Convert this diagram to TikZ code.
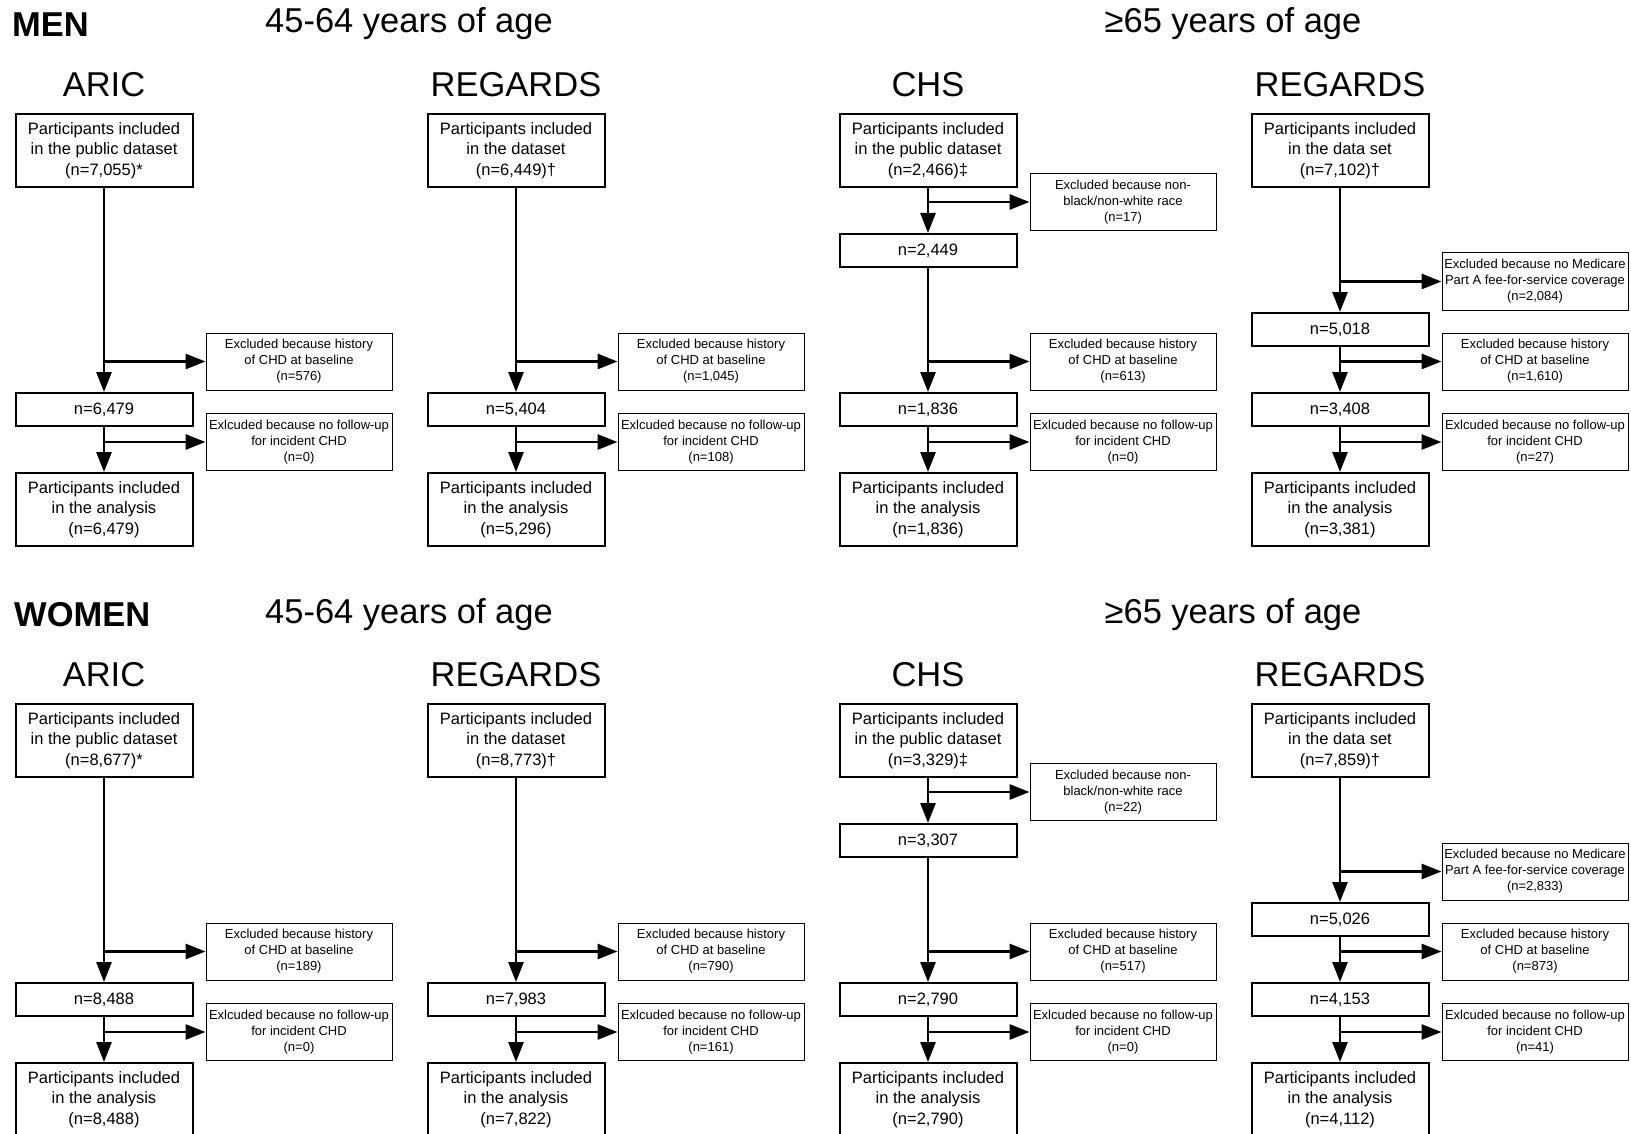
\documentclass[tikz,border=0pt]{standalone}
\usepackage{fontspec}
\setmainfont{Liberation Sans}
\usetikzlibrary{arrows.meta}
\newcommand\mainsz{\fontsize{16.5}{20.3}\selectfont}
\newcommand\smallsz{\fontsize{13}{16.1}\selectfont}
\newcommand\headsz{\fontsize{34.5}{40}\selectfont}
\tikzset{
  mainbox/.style={draw, line width=2pt, minimum width=177pt, minimum height=73pt, inner sep=0pt, align=center, font=\mainsz},
  midbox/.style={draw, line width=2pt, minimum width=177pt, minimum height=33pt, inner sep=0pt, align=center, font=\mainsz},
  exbox/.style={draw, line width=1pt, minimum width=186pt, minimum height=57pt, inner sep=1pt, align=center, font=\smallsz},
  arr/.style={line width=2.8pt, -{Triangle[length=20pt,width=15pt]}},
  headtxt/.style={font=\headsz, inner sep=0pt},
}
% simple column: top, history, n, follow-up, final
\newcommand\simplecol[8]{%
  \node[mainbox] (#1top) at (#2,#3+150.5) {#4};
  \node[exbox] (#1hist) at (#2+195,#3+361.5) {Excluded because history\\of CHD at baseline\\(n=#5)};
  \node[midbox] (#1mid) at (#2,#3+409.5) {n=#6};
  \node[exbox] (#1fu) at (#2+195,#3+442) {Exlcuded because no follow-up\\for incident CHD\\(n=#7)};
  \node[mainbox] (#1fin) at (#2,#3+509.5) {Participants included\\in the analysis\\(n=#8)};
  \draw[arr] (#1top) -- (#1mid);
  \draw[arr] (#1top.south |- #1hist.west) -- (#1hist.west);
  \draw[arr] (#1mid) -- (#1fin);
  \draw[arr] (#1mid.south |- #1fu.west) -- (#1fu.west);
}
\begin{document}
\begin{tikzpicture}[x=1pt,y=-1pt]
\useasboundingbox (0,0) rectangle (1631,1134);
\clip (0,0) rectangle (1631,1134);

% ================= MEN =================
\node[headtxt, anchor=west, font=\headsz\bfseries] (men) at (12,25) {MEN};
\node[headtxt] (ageA) at (409,24) {45-64 years of age};
\node[headtxt] (ageB) at (1233,24) {≥65 years of age};
\node[headtxt] (t1) at (104,85) {ARIC};
\node[headtxt] (t2) at (516,85) {REGARDS};
\node[headtxt] (t3) at (928,85) {CHS};
\node[headtxt] (t4) at (1340,85) {REGARDS};

\simplecol{ma}{104}{0}{Participants included\\in the public dataset\\(n=7,055)*}{576}{6,479}{0}{6,479}
\simplecol{mb}{516}{0}{Participants included\\in the dataset\\(n=6,449)†}{1,045}{5,404}{108}{5,296}

% CHS men
\node[mainbox] (mctop) at (928,150.5) {Participants included\\in the public dataset\\(n=2,466)‡};
\node[exbox] (mcrace) at (1123,202) {Excluded because non-\\black/non-white race\\(n=17)};
\node[midbox] (mcn1) at (928,250.5) {n=2,449};
\node[exbox] (mchist) at (1123,361.5) {Excluded because history\\of CHD at baseline\\(n=613)};
\node[midbox] (mcn2) at (928,409.5) {n=1,836};
\node[exbox] (mcfu) at (1123,442) {Exlcuded because no follow-up\\for incident CHD\\(n=0)};
\node[mainbox] (mcfin) at (928,509.5) {Participants included\\in the analysis\\(n=1,836)};
\draw[arr] (mctop) -- (mcn1);
\draw[arr] (mctop.south |- mcrace.west) -- (mcrace.west);
\draw[arr] (mcn1) -- (mcn2);
\draw[arr] (mcn1.south |- mchist.west) -- (mchist.west);
\draw[arr] (mcn2) -- (mcfin);
\draw[arr] (mcn2.south |- mcfu.west) -- (mcfu.west);

% REGARDS >=65 men
\node[mainbox] (mrtop) at (1340,150.5) {Participants included\\in the data set\\(n=7,102)†};
\node[exbox] (mrmed) at (1535,281.5) {Excluded because no Medicare\\Part A fee-for-service coverage\\(n=2,084)};
\node[midbox] (mrn1) at (1340,329.5) {n=5,018};
\node[exbox] (mrhist) at (1535,361.5) {Excluded because history\\of CHD at baseline\\(n=1,610)};
\node[midbox] (mrn2) at (1340,409.5) {n=3,408};
\node[exbox] (mrfu) at (1535,442) {Exlcuded because no follow-up\\for incident CHD\\(n=27)};
\node[mainbox] (mrfin) at (1340,509.5) {Participants included\\in the analysis\\(n=3,381)};
\draw[arr] (mrtop) -- (mrn1);
\draw[arr] (mrtop.south |- mrmed.west) -- (mrmed.west);
\draw[arr] (mrn1) -- (mrn2);
\draw[arr] (mrn1.south |- mrhist.west) -- (mrhist.west);
\draw[arr] (mrn2) -- (mrfin);
\draw[arr] (mrn2.south |- mrfu.west) -- (mrfu.west);

% ================= WOMEN =================
\node[headtxt, anchor=west, font=\headsz\bfseries] (women) at (14,615) {WOMEN};
\node[headtxt] (wageA) at (409,615) {45-64 years of age};
\node[headtxt] (wageB) at (1233,615) {≥65 years of age};
\node[headtxt] (w1) at (104,675) {ARIC};
\node[headtxt] (w2) at (516,675) {REGARDS};
\node[headtxt] (w3) at (928,675) {CHS};
\node[headtxt] (w4) at (1340,675) {REGARDS};

\simplecol{wa}{104}{590}{Participants included\\in the public dataset\\(n=8,677)*}{189}{8,488}{0}{8,488}
\simplecol{wb}{516}{590}{Participants included\\in the dataset\\(n=8,773)†}{790}{7,983}{161}{7,822}

% CHS women
\node[mainbox] (wctop) at (928,740.5) {Participants included\\in the public dataset\\(n=3,329)‡};
\node[exbox] (wcrace) at (1123,792) {Excluded because non-\\black/non-white race\\(n=22)};
\node[midbox] (wcn1) at (928,840.5) {n=3,307};
\node[exbox] (wchist) at (1123,951.5) {Excluded because history\\of CHD at baseline\\(n=517)};
\node[midbox] (wcn2) at (928,999.5) {n=2,790};
\node[exbox] (wcfu) at (1123,1032) {Exlcuded because no follow-up\\for incident CHD\\(n=0)};
\node[mainbox] (wcfin) at (928,1099.5) {Participants included\\in the analysis\\(n=2,790)};
\draw[arr] (wctop) -- (wcn1);
\draw[arr] (wctop.south |- wcrace.west) -- (wcrace.west);
\draw[arr] (wcn1) -- (wcn2);
\draw[arr] (wcn1.south |- wchist.west) -- (wchist.west);
\draw[arr] (wcn2) -- (wcfin);
\draw[arr] (wcn2.south |- wcfu.west) -- (wcfu.west);

% REGARDS >=65 women
\node[mainbox] (wrtop) at (1340,740.5) {Participants included\\in the data set\\(n=7,859)†};
\node[exbox] (wrmed) at (1535,871.5) {Excluded because no Medicare\\Part A fee-for-service coverage\\(n=2,833)};
\node[midbox] (wrn1) at (1340,919.5) {n=5,026};
\node[exbox] (wrhist) at (1535,951.5) {Excluded because history\\of CHD at baseline\\(n=873)};
\node[midbox] (wrn2) at (1340,999.5) {n=4,153};
\node[exbox] (wrfu) at (1535,1032) {Exlcuded because no follow-up\\for incident CHD\\(n=41)};
\node[mainbox] (wrfin) at (1340,1099.5) {Participants included\\in the analysis\\(n=4,112)};
\draw[arr] (wrtop) -- (wrn1);
\draw[arr] (wrtop.south |- wrmed.west) -- (wrmed.west);
\draw[arr] (wrn1) -- (wrn2);
\draw[arr] (wrn1.south |- wrhist.west) -- (wrhist.west);
\draw[arr] (wrn2) -- (wrfin);
\draw[arr] (wrn2.south |- wrfu.west) -- (wrfu.west);
\end{tikzpicture}
\end{document}
